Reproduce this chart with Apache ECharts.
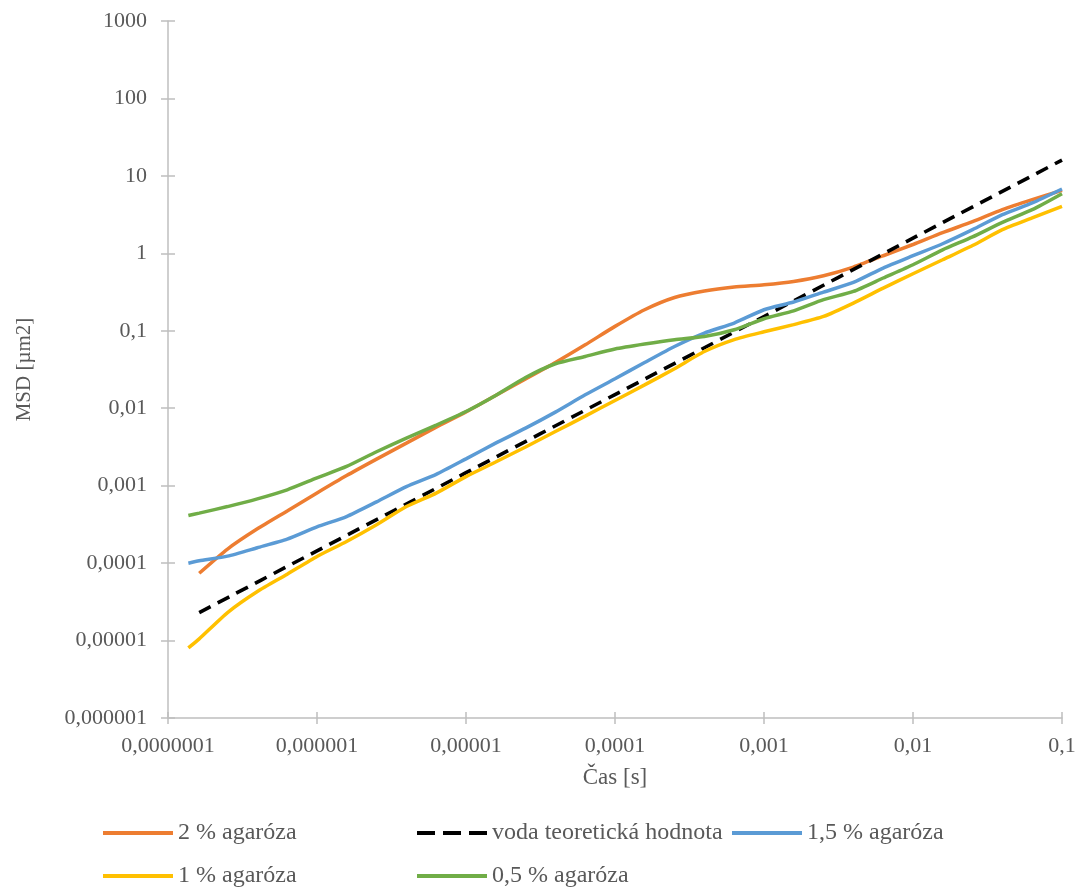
<!DOCTYPE html>
<html>
<head>
<meta charset="utf-8">
<script src="https://cdn.jsdelivr.net/npm/echarts@6/dist/echarts.min.js"></script>
<style>
html,body{margin:0;padding:0;background:#fff;}
#chart{width:1081px;height:892px;}
</style>
</head>
<body>
<div id="chart"></div>
<script>
// time lags [s]
const times = [1.37e-7, 1.62e-7, 2.51e-7, 3.98e-7, 6.31e-7, 1e-6, 1.58e-6, 2.51e-6, 3.98e-6, 6.31e-6,
  1e-5, 1.58e-5, 2.51e-5, 3.98e-5, 6.31e-5, 1e-4, 1.58e-4, 2.51e-4, 3.98e-4, 6.31e-4,
  1e-3, 1.58e-3, 2.51e-3, 3.98e-3, 6.31e-3, 1e-2, 1.58e-2, 2.51e-2, 3.98e-2, 6.31e-2, 0.1];

const seriesNames = ['2 % agaróza', 'voda teoretická hodnota', '1,5 % agaróza', '1 % agaróza', '0,5 % agaróza'];

// MSD [µm2]
const agar2 = [null, 7.4e-5, 1.52e-4, 2.77e-4, 4.72e-4, 8.05e-4, 1.35e-3, 2.20e-3, 3.54e-3, 5.70e-3,
  8.97e-3, 0.0146, 0.0238, 0.0389, 0.0659, 0.114, 0.187, 0.269, 0.326, 0.367,
  0.393, 0.434, 0.514, 0.665, 0.931, 1.30, 1.85, 2.56, 3.66, 4.93, 6.50];

const voda = [null, 2.3e-5, null, null, null, 1.44e-4, null, null, null, null,
  1.47e-3, null, null, null, null, 0.0150, null, null, null, null,
  0.153, null, null, null, null, 1.57, null, null, null, null, 16.0];

const agar15 = [9.98e-5, 1.07e-4, 1.23e-4, 1.58e-4, 2.04e-4, 2.94e-4, 3.99e-4, 6.18e-4, 9.72e-4, 1.40e-3,
  2.22e-3, 3.54e-3, 5.53e-3, 8.91e-3, 0.0149, 0.0240, 0.0389, 0.0627, 0.0933, 0.126,
  0.187, 0.235, 0.316, 0.421, 0.646, 0.931, 1.33, 2.02, 3.16, 4.47, 6.78];

const agar1 = [8.02e-6, 1.05e-5, 2.30e-5, 4.30e-5, 7.19e-5, 1.22e-4, 1.90e-4, 3.12e-4, 5.37e-4, 8.02e-4,
  1.31e-3, 2.02e-3, 3.16e-3, 5.0e-3, 7.9e-3, 0.0126, 0.0200, 0.0324, 0.0540, 0.0770,
  0.0970, 0.120, 0.153, 0.228, 0.356, 0.545, 0.826, 1.26, 2.02, 2.86, 4.04];

const agar05 = [4.11e-4, 4.42e-4, 5.37e-4, 6.75e-4, 8.83e-4, 1.26e-3, 1.77e-3, 2.74e-3, 4.11e-3, 6.05e-3,
  9.06e-3, 0.0146, 0.0249, 0.0375, 0.0466, 0.0581, 0.0673, 0.0766, 0.0843, 0.103,
  0.143, 0.181, 0.252, 0.322, 0.480, 0.713, 1.11, 1.63, 2.51, 3.66, 5.89];

const xMin = 1e-7, xMax = 0.1;
const yMin = 1e-6, yMax = 1000;

const colors = ['#ED7D31', '#000000', '#5B9BD5', '#FFC000', '#70AD47'];
const values = [agar2, voda, agar15, agar1, agar05];

function fmt(v) {
  const e = Math.round(Math.log10(v));
  if (e >= 0) return String(Math.round(Math.pow(10, e)));
  return '0,' + '0'.repeat(-e - 1) + '1';
}

const FONT = '"Liberation Serif", "Times New Roman", serif';
const TXT = '#595959';
const AX = '#BFBFBF';

const SOLID_ICON = 'path://M0,0H70V4H0Z';
const DASH_ICON = 'path://M0,0H18V4H0Z M26,0H44V4H26Z M52,0H70V4H52Z';

const chart = echarts.init(document.getElementById('chart'), null, {renderer: 'canvas'});

const baseX = {
  type: 'log', logBase: 10, min: xMin, max: xMax, splitNumber: 6,
  splitLine: {show: false}, minorTick: {show: false}, minorSplitLine: {show: false}
};
const baseY = {
  type: 'log', logBase: 10, min: yMin, max: yMax, splitNumber: 9,
  splitLine: {show: false}, minorTick: {show: false}, minorSplitLine: {show: false}
};

const series = seriesNames.map((name, i) => ({
  name: name,
  type: 'line',
  xAxisIndex: 0,
  yAxisIndex: 0,
  data: times.map((t, k) => [t, values[i][k]]),
  connectNulls: true,
  showSymbol: false,
  symbol: 'none',
  smooth: 0.2,
  color: colors[i],
  itemStyle: {color: colors[i]},
  lineStyle: i === 1
    ? {color: colors[i], width: 3.6, type: [13, 8]}
    : {color: colors[i], width: 3.5},
  z: 2
}));

const legendPos = [
  {left: 103, top: 821},
  {left: 417, top: 821},
  {left: 732, top: 821},
  {left: 103, top: 864},
  {left: 417, top: 864}
];

const legends = seriesNames.map((name, i) => ({
  data: [{name: name, icon: i === 1 ? DASH_ICON : SOLID_ICON, itemStyle: {color: colors[i]}}],
  left: legendPos[i].left,
  top: legendPos[i].top,
  padding: 0,
  orient: 'horizontal',
  itemWidth: 70,
  itemHeight: 4,
  selectedMode: false,
  textStyle: {fontFamily: FONT, fontSize: 24, color: TXT}
}));

chart.setOption({
  animation: false,
  backgroundColor: '#ffffff',
  grid: {left: 168, right: 19, top: 21, bottom: 174, containLabel: false},
  legend: legends,
  xAxis: [
    Object.assign({}, baseX, {
      position: 'bottom',
      name: 'Čas [s]',
      nameLocation: 'middle',
      nameGap: 48,
      nameTextStyle: {fontFamily: FONT, fontSize: 23, color: TXT},
      axisLine: {show: true, lineStyle: {color: AX, width: 1.5}},
      axisTick: {show: true, inside: false, length: 6, lineStyle: {color: AX, width: 1.5}},
      axisLabel: {show: true, margin: 17, fontFamily: FONT, fontSize: 22, color: TXT, formatter: fmt}
    }),
    Object.assign({}, baseX, {
      position: 'bottom',
      axisLine: {show: false},
      axisTick: {show: true, inside: true, length: 6, lineStyle: {color: AX, width: 1.5}},
      axisLabel: {show: false}
    })
  ],
  yAxis: [
    Object.assign({}, baseY, {
      position: 'left',
      name: 'MSD [µm2]',
      nameLocation: 'middle',
      nameGap: 133,
      nameRotate: 90,
      nameTextStyle: {fontFamily: FONT, fontSize: 21, color: TXT},
      axisLine: {show: true, lineStyle: {color: AX, width: 1.5}},
      axisTick: {show: true, inside: false, length: 7, lineStyle: {color: AX, width: 1.5}},
      axisLabel: {show: true, margin: 21, fontFamily: FONT, fontSize: 22, color: TXT, formatter: fmt}
    }),
    Object.assign({}, baseY, {
      position: 'left',
      axisLine: {show: false},
      axisTick: {show: true, inside: true, length: 7, lineStyle: {color: AX, width: 1.5}},
      axisLabel: {show: false}
    })
  ],
  series: series
});
</script>
</body>
</html>
